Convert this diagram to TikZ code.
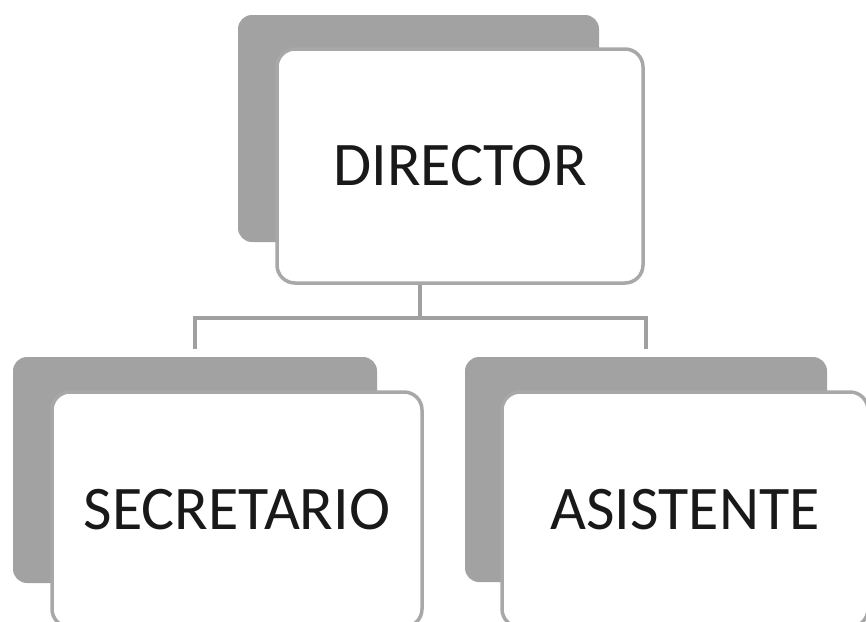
\documentclass[tikz,border=0pt]{standalone}
\usepackage{fontspec}
\setmainfont{Carlito}
\definecolor{backgray}{RGB}{162,162,162}
\definecolor{edgegray}{RGB}{168,168,168}
\definecolor{linegray}{RGB}{160,160,160}
\definecolor{textdark}{RGB}{25,25,25}
\begin{document}
\begin{tikzpicture}[x=1pt,y=-1pt,
  backbox/.style={fill=backgray, draw=none, rounded corners=14pt, inner sep=0pt},
  frontbox/.style={fill=white, draw=edgegray, line width=3.5pt, rounded corners=18pt, inner sep=0pt,
    text=textdark, font=\fontsize{62}{72}\selectfont},
  link/.style={draw=linegray, line width=3.5pt}]
\useasboundingbox[fill=white] (0,0) rectangle (866,621);
% DIRECTOR
\node[backbox, minimum width=361pt, minimum height=227pt] (dirback) at (418.5,128.5) {};
\node[frontbox, minimum width=366pt, minimum height=234pt] (dirfront) at (460,166) {DIRECTOR};
% children
\node[backbox, minimum width=364pt, minimum height=226pt] (secback) at (195,470) {};
\node[frontbox, minimum width=370pt, minimum height=235pt] (secfront) at (237,509.5) {SECRETARIO};
\node[backbox, minimum width=362pt, minimum height=225pt] (asiback) at (646,469.5) {};
\node[frontbox, minimum width=366pt, minimum height=235pt] (asifront) at (685,509.5) {ASISTENTE};
% connectors
\coordinate (junction) at (420,318);
\draw[link] (dirfront.south -| junction) -- (junction);
\draw[link] ([yshift=8pt]secback.north) |- (junction) -| ([yshift=8pt]asiback.north);
\end{tikzpicture}
\end{document}
